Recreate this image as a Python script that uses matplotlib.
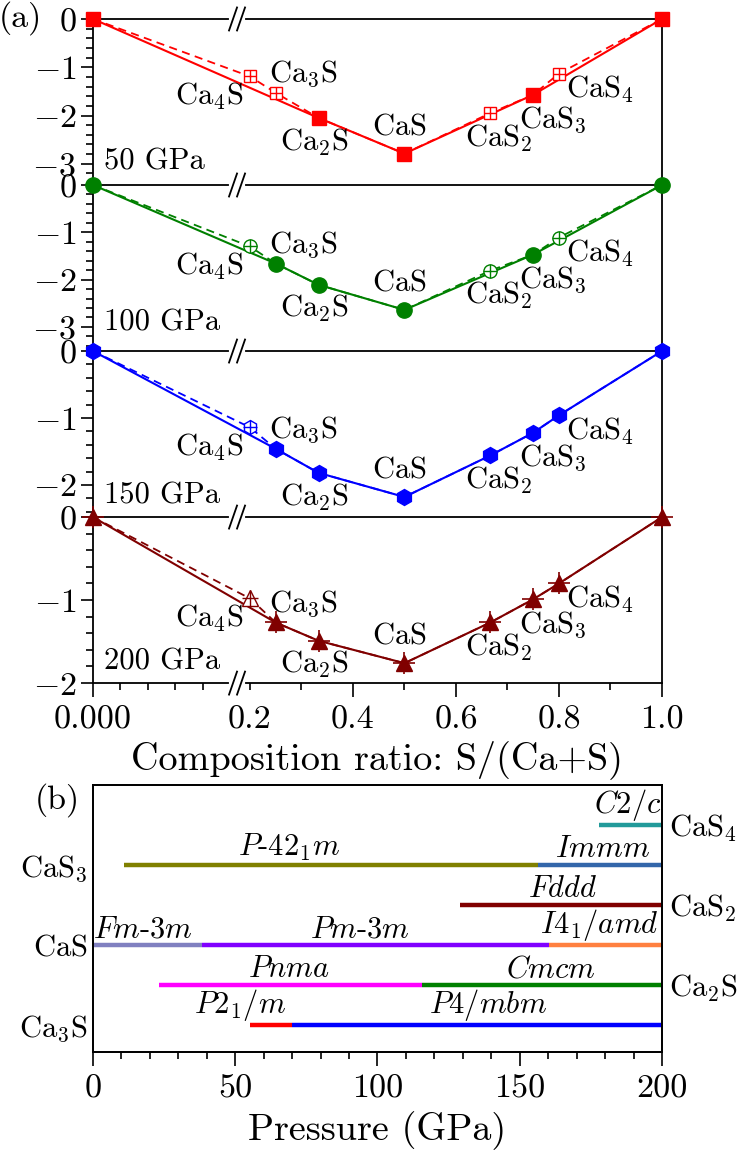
import numpy as np
import matplotlib.pyplot as plt

plt.rcParams['font.family'] = 'serif'
plt.rcParams['font.serif'] = ['cmr10']
plt.rcParams['mathtext.fontset'] = 'cm'
plt.rcParams['axes.unicode_minus'] = False
plt.rcParams['axes.formatter.use_mathtext'] = True

FS = 22      # labels inside the plots
TFS = 24.5   # tick labels
LFS = 27.5   # axis titles

# ---- panel (a): formation enthalpy vs composition ----
comp = [0.0, 0.2, 0.25, 1 / 3, 0.5, 2 / 3, 0.75, 0.8, 1.0]
comp_labels = ['', r'$\mathrm{Ca_4S}$', r'$\mathrm{Ca_3S}$', r'$\mathrm{Ca_2S}$', r'$\mathrm{CaS}$',
               r'$\mathrm{CaS_2}$', r'$\mathrm{CaS_3}$', r'$\mathrm{CaS_4}$', '']
pressures = ['50 GPa', '100 GPa', '150 GPa', '200 GPa']
e_50 = [0.0, -1.19, -1.53, -2.05, -2.79, -1.95, -1.57, -1.13, 0.0]
e_100 = [0.0, -1.30, -1.66, -2.11, -2.64, -1.81, -1.47, -1.11, 0.0]
e_150 = [0.0, -1.14, -1.46, -1.82, -2.18, -1.56, -1.22, -0.96, 0.0]
e_200 = [0.0, -0.98, -1.27, -1.49, -1.76, -1.27, -0.99, -0.80, 0.0]
stable_50 = [1, 0, 0, 1, 1, 0, 1, 0, 1]
stable_100 = [1, 0, 1, 1, 1, 0, 1, 0, 1]
stable_150 = [1, 0, 1, 1, 1, 1, 1, 1, 1]
stable_200 = [1, 0, 1, 1, 1, 1, 1, 1, 1]

# ---- panel (b): stable phases vs pressure ----
compounds = [r'$\mathrm{Ca_3S}$', r'$\mathrm{Ca_2S}$', r'$\mathrm{CaS}$',
             r'$\mathrm{CaS_2}$', r'$\mathrm{CaS_3}$', r'$\mathrm{CaS_4}$']
phase_labels = [r'$C2/c$', r'$P$-$42_1m$', r'$Immm$', r'$Fddd$', r'$Fm$-$3m$', r'$Pm$-$3m$',
                r'$I4_1/amd$', r'$Pnma$', r'$Cmcm$', r'$P2_1/m$', r'$P4/mbm$']
phase_compound = [5, 4, 4, 3, 2, 2, 2, 1, 1, 0, 0]
phase_start = [178, 11, 156.5, 129, 0, 38.3, 160.3, 23.2, 115.6, 55.2, 70]
phase_end = [200, 156.5, 200, 200, 38.3, 160.3, 200, 115.6, 200, 70, 200]
phase_label_x = [188, 69, 179, 165, 17.7, 94, 178, 69, 161, 51.6, 139]
phase_colors = ['#229a9a', '#808000', '#3366aa', '#800000', '#8080c0', '#8000ff',
                '#ff8040', '#ff00ff', '#008000', '#ff0000', '#0000ff']

# broken composition axis: 0..XB is stretched, XB..1 linear
XB = 0.175
K1 = 1.598


def fwd(x):
    x = np.asarray(x, float)
    return np.where(x < XB, x * K1, XB * K1 + (x - XB))


def inv(u):
    u = np.asarray(u, float)
    return np.where(u < XB * K1, u / K1, u - XB * K1 + XB)


def break_marks(ax, yax):
    # "//" on a horizontal spine at the axis break
    xb = float(fwd(XB) / fwd(1.0))
    w = ax.get_position().width * 738
    hh = ax.get_position().height * 1150
    dx = 4.0 / w
    dy = 11.5 / hh
    ax.plot([xb - 4 * dx / 4 - 0.5 * dx, xb + 0.5 * dx + dx], [yax, yax], color='white', lw=3,
            transform=ax.transAxes, clip_on=False, zorder=10)
    for off in (-4.0 / w, 4.0 / w):
        ax.plot([xb + off - dx, xb + off + dx], [yax - dy, yax + dy], color='black', lw=1.3,
                transform=ax.transAxes, clip_on=False, zorder=11)


fig = plt.figure(figsize=(7.38, 11.5), dpi=100)
gs = fig.add_gridspec(4, 1, left=0.126, right=0.897, top=0.9835, bottom=0.406, hspace=0)

energies = [e_50, e_100, e_150, e_200]
stables = [stable_50, stable_100, stable_150, stable_200]
colors = ['#ff0000', '#008000', '#0000ff', '#800000']
markers = ['s', 'o', 'h', '^']
msizes = [9.5, 11, 11.5, 12]
hsizes = [8.5, 9.5, 10, 11]
ylims = [-3.44, -3.51, -2.48, -2.0]
gpa_y = [0.14, 0.17, 0.13, 0.13]
label_off = [None, (-41, -20), (28, 19), (-4, -24), (-5, 27), (8, -25), (20, -25), (41, -16), None]

axes = []
for i in range(4):
    ax = fig.add_subplot(gs[i])
    axes.append(ax)
    ax.set_xscale('function', functions=(fwd, inv))
    ax.set_xlim(0, 1)
    ax.set_ylim(ylims[i], 0)
    c = colors[i]
    e = energies[i]
    st = stables[i]
    xs = [x for x, s in zip(comp, st) if s]
    ys = [y for y, s in zip(e, st) if s]
    xh = [x for x, s in zip(comp, st) if not s]
    yh = [y for y, s in zip(e, st) if not s]
    ax.plot(comp, e, color=c, lw=1.3, dashes=(4.5, 3))
    ax.plot(xs, ys, color=c, lw=1.5)
    ax.plot(xs, ys, ls='none', marker=markers[i], ms=msizes[i], color=c, clip_on=False, zorder=5)
    if i == 3:
        ax.plot(xs, ys, ls='none', marker='+', ms=16, mew=1.2, color=c, clip_on=False, zorder=5)
    ax.plot(xh, yh, ls='none', marker=markers[i], ms=hsizes[i], mfc='white', mec=c, mew=1.0, zorder=5)
    ax.plot(xh, yh, ls='none', marker='+', ms=hsizes[i], mew=1.0, color=c, zorder=6)
    for j in range(1, 8):
        ax.annotate(comp_labels[j], xy=(comp[j], e[j]), xytext=label_off[j],
                    textcoords='offset pixels', ha='center', va='center', fontsize=FS)
    ax.text(0.02, gpa_y[i], pressures[i], transform=ax.transAxes, fontsize=FS, va='center')

    nmaj = int(np.floor(-ylims[i] + 1e-6))
    ax.set_yticks([-k for k in range(nmaj + 1)], labels=['$0$'] + ['$-%d$' % k for k in range(1, nmaj + 1)])
    ax.set_yticks(np.arange(0, ylims[i] - 0.01, -0.2), minor=True)
    ax.tick_params(axis='y', which='major', direction='out', length=9, width=1.2, labelsize=TFS, pad=3)
    ax.tick_params(axis='y', which='minor', direction='out', length=5, width=1.2)
    for sp in ax.spines.values():
        sp.set_linewidth(1.3)
    if i < 3:
        ax.spines['bottom'].set_visible(False)
        ax.tick_params(axis='x', which='both', bottom=False, labelbottom=False)
    break_marks(ax, 1.0)

ax4 = axes[3]
ax4.set_xticks([0.0, 0.4, 0.6, 0.8, 1.0], labels=['0.000', '0.4', '0.6', '0.8', '1.0'])
ax4.set_xticks([0.0333, 0.0667, 0.1, 0.1333, 0.2, 0.3, 0.5, 0.7, 0.9],
               labels=['', '', '', '', '0.2', '', '', '', ''], minor=True)
ax4.tick_params(axis='x', which='major', direction='out', length=10, width=1.2, labelsize=TFS, pad=6)
ax4.tick_params(axis='x', which='minor', direction='out', length=5, width=1.2, labelsize=TFS, pad=11)
ax4.set_xlabel('Composition ratio: S/(Ca+S)', fontsize=LFS, labelpad=4)
break_marks(ax4, 0.0)

fig.text(0.028, 0.984, '(a)', fontsize=TFS, ha='center', va='center')

# ---- panel (b) ----
axb = fig.add_axes([0.126, 0.0852, 0.771, 0.2322])
for k in range(len(phase_labels)):
    lvl = phase_compound[k] + 1
    axb.plot([phase_start[k], phase_end[k]], [lvl, lvl], color=phase_colors[k], lw=3.2,
             solid_capstyle='butt', clip_on=False)
    axb.annotate(phase_labels[k], xy=(phase_label_x[k], lvl), xytext=(0, 2),
                 textcoords='offset pixels', ha='center', va='bottom', fontsize=FS)
axb.set_xlim(0, 200)
axb.set_ylim(0.33, 7.0)
axb.set_xticks([0, 50, 100, 150, 200])
axb.set_xticks(np.arange(0, 201, 10), minor=True)
axb.set_xticklabels(['0', '50', '100', '150', '200'])
axb.tick_params(axis='x', which='major', direction='out', length=10, width=1.2, labelsize=TFS, pad=6)
axb.tick_params(axis='x', which='minor', direction='out', length=5, width=1.2)
axb.set_yticks([1, 3, 5], labels=[compounds[0], compounds[2], compounds[4]])
axb.tick_params(axis='y', length=0, labelsize=FS, pad=4)
axb.set_xlabel('Pressure (GPa)', fontsize=LFS, labelpad=6)
for sp in axb.spines.values():
    sp.set_linewidth(1.3)
axr = axb.twinx()
axr.set_ylim(0.33, 7.0)
axr.set_yticks([2, 4, 6], labels=[compounds[1], compounds[3], compounds[5]])
axr.tick_params(axis='y', length=0, labelsize=FS, pad=5)
for sp in axr.spines.values():
    sp.set_linewidth(1.3)

fig.text(0.077, 0.304, '(b)', fontsize=TFS, ha='center', va='center')

fig.savefig('out.png', dpi=100)
